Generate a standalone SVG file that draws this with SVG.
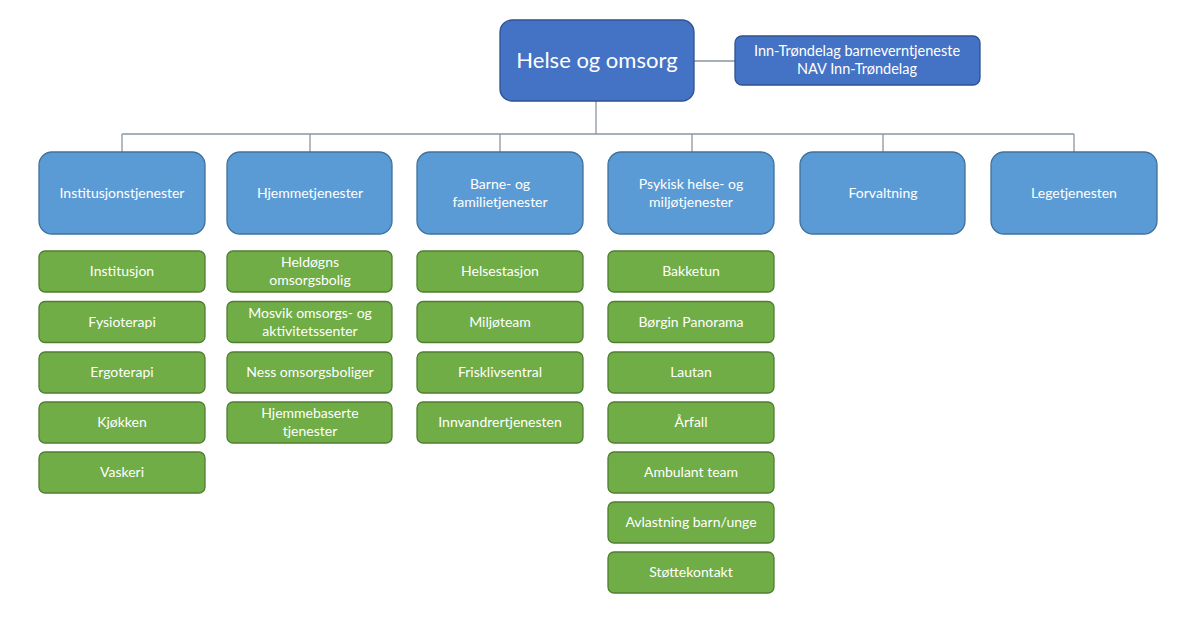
<svg xmlns="http://www.w3.org/2000/svg" width="1200" height="618" viewBox="0 0 1200 618">
<style>
.top{fill:#4472C4;stroke:#2F528F;stroke-width:1.3}
.sub{fill:#5B9BD5;stroke:#41719C;stroke-width:1.3}
.leaf{fill:#70AD47;stroke:#507E32;stroke-width:1.3}
.conn{stroke:#8C96A0;stroke-width:1.3;fill:none}
text{font-family:Lato,"Open Sans",sans-serif;fill:#FFFFFF;text-anchor:middle;font-size:14px}
.big{font-size:22px}
.nav{font-size:14.5px}
</style>
<rect width="1200" height="618" fill="#FFFFFF"/>
<g id="connectors">
<path class="conn" d="M694 61H735M596 101V134M122 134H1074M122 134V152M310 134V152M500 134V152M692 134V152M883 134V152M1074 134V152"/>
</g>
<g id="helse-og-omsorg"><rect class="top" x="500" y="20" width="194" height="81" rx="12"/><text class="big" x="597" y="68">Helse og omsorg</text></g>
<g id="inn-trondelag"><rect class="top" x="735" y="36" width="245" height="49" rx="7"/><text class="nav" x="857" y="56">Inn-Trøndelag barneverntjeneste</text><text class="nav" x="857" y="74">NAV Inn-Trøndelag</text></g>
<g id="institusjonstjenester"><rect class="sub" x="39" y="152" width="166" height="82" rx="13"/><text x="122" y="198">Institusjonstjenester</text></g>
<g id="hjemmetjenester"><rect class="sub" x="227" y="152" width="165" height="82" rx="13"/><text x="310" y="198">Hjemmetjenester</text></g>
<g id="barne-familie"><rect class="sub" x="417" y="152" width="166" height="82" rx="13"/><text x="500" y="189">Barne- og</text><text x="500" y="207">familietjenester</text></g>
<g id="psykisk"><rect class="sub" x="608" y="152" width="166" height="82" rx="13"/><text x="691" y="189">Psykisk helse- og</text><text x="691" y="207">miljøtjenester</text></g>
<g id="forvaltning"><rect class="sub" x="800" y="152" width="165" height="82" rx="13"/><text x="883" y="198">Forvaltning</text></g>
<g id="legetjenesten"><rect class="sub" x="991" y="152" width="166" height="82" rx="13"/><text x="1074" y="198">Legetjenesten</text></g>

<g id="institusjon"><rect class="leaf" x="39" y="251" width="166" height="41" rx="6"/><text x="122" y="276">Institusjon</text></g>
<g id="fysioterapi"><rect class="leaf" x="39" y="301.5" width="166" height="41" rx="6"/><text x="122" y="326.5">Fysioterapi</text></g>
<g id="ergoterapi"><rect class="leaf" x="39" y="352" width="166" height="41" rx="6"/><text x="122" y="377">Ergoterapi</text></g>
<g id="kjokken"><rect class="leaf" x="39" y="402" width="166" height="41" rx="6"/><text x="122" y="427">Kjøkken</text></g>
<g id="vaskeri"><rect class="leaf" x="39" y="452" width="166" height="41" rx="6"/><text x="122" y="477">Vaskeri</text></g>

<g id="heldogns"><rect class="leaf" x="227" y="251" width="165" height="41" rx="6"/><text x="310" y="267">Heldøgns</text><text x="310" y="285">omsorgsbolig</text></g>
<g id="mosvik"><rect class="leaf" x="227" y="301.5" width="165" height="41" rx="6"/><text x="310" y="317.5">Mosvik omsorgs- og</text><text x="310" y="335.5">aktivitetssenter</text></g>
<g id="ness"><rect class="leaf" x="227" y="352" width="165" height="41" rx="6"/><text x="310" y="377">Ness omsorgsboliger</text></g>
<g id="hjemmebaserte"><rect class="leaf" x="227" y="402" width="165" height="41" rx="6"/><text x="310" y="418">Hjemmebaserte</text><text x="310" y="436">tjenester</text></g>

<g id="helsestasjon"><rect class="leaf" x="417" y="251" width="166" height="41" rx="6"/><text x="500" y="276">Helsestasjon</text></g>
<g id="miljoteam"><rect class="leaf" x="417" y="301.5" width="166" height="41" rx="6"/><text x="500" y="326.5">Miljøteam</text></g>
<g id="frisklivsentral"><rect class="leaf" x="417" y="352" width="166" height="41" rx="6"/><text x="500" y="377">Frisklivsentral</text></g>
<g id="innvandrertjenesten"><rect class="leaf" x="417" y="402" width="166" height="41" rx="6"/><text x="500" y="427">Innvandrertjenesten</text></g>

<g id="bakketun"><rect class="leaf" x="608" y="251" width="166" height="41" rx="6"/><text x="691" y="276">Bakketun</text></g>
<g id="borgin"><rect class="leaf" x="608" y="301.5" width="166" height="41" rx="6"/><text x="691" y="326.5">Børgin Panorama</text></g>
<g id="lautan"><rect class="leaf" x="608" y="352" width="166" height="41" rx="6"/><text x="691" y="377">Lautan</text></g>
<g id="arfall"><rect class="leaf" x="608" y="402" width="166" height="41" rx="6"/><text x="691" y="427">Årfall</text></g>
<g id="ambulant"><rect class="leaf" x="608" y="452" width="166" height="41" rx="6"/><text x="691" y="477">Ambulant team</text></g>
<g id="avlastning"><rect class="leaf" x="608" y="502" width="166" height="41" rx="6"/><text x="691" y="527">Avlastning barn/unge</text></g>
<g id="stottekontakt"><rect class="leaf" x="608" y="552" width="166" height="41" rx="6"/><text x="691" y="577">Støttekontakt</text></g>
</svg>
